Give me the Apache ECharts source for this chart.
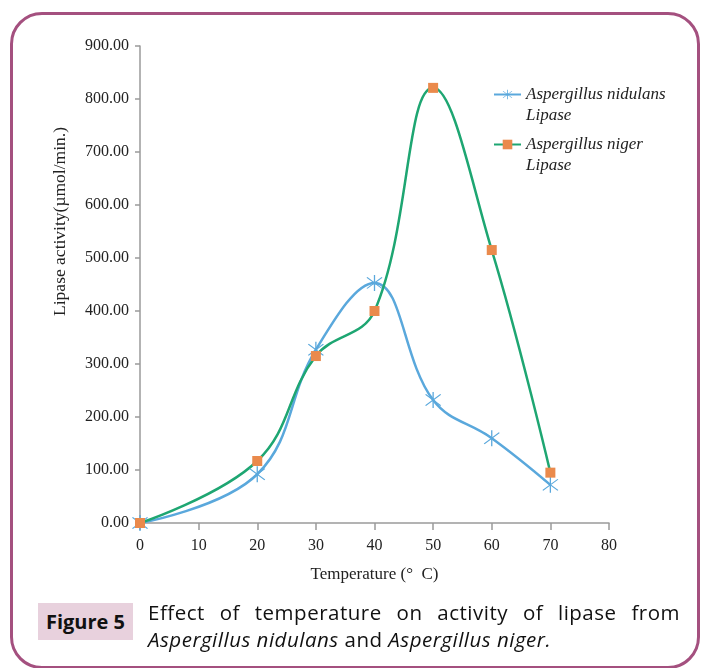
<!DOCTYPE html>
<html>
<head>
<meta charset="utf-8">
<script src="https://cdn.jsdelivr.net/npm/echarts@6/dist/echarts.min.js"></script>
<style>
    html, body { margin: 0; padding: 0; background: #fff; }
    #wrap { position: relative; width: 705px; height: 668px; overflow: hidden; }
    #frame {
        position: absolute; left: 10px; top: 12px; width: 690px; height: 657px;
        border: 3px solid #a4507f; border-radius: 32px; box-sizing: border-box;
    }
    #chart { position: absolute; left: 0; top: 0; width: 705px; height: 668px; }
    #figLabel {
        position: absolute; left: 38px; top: 603px; width: 95px; height: 37px;
        background: #e8d1dd; font-family: "Open Sans", "Noto Sans", sans-serif;
        font-weight: bold; font-size: 20px; line-height: 37px; text-align: center; color: #111;
    }
    #caption {
        position: absolute; left: 148px; top: 599px; width: 532px;
        font-family: "Open Sans", "Noto Sans", sans-serif; font-size: 20.5px;
        letter-spacing: 0.5px; line-height: 27px; color: #111;
    }
    #caption .l1 { text-align: justify; text-align-last: justify; }
</style>
</head>
<body>
<div id="wrap">
    <div id="frame"></div>
    <div id="chart"></div>
    <div id="figLabel">Figure 5</div>
    <div id="caption">
        <div class="l1">Effect of temperature on activity of lipase from</div>
        <div><i>Aspergillus nidulans</i> and <i>Aspergillus niger.</i></div>
    </div>
</div>
<script>
// 数据
const temperatures = [0, 20, 30, 40, 50, 60, 70];
const nidulansValues = [0, 92, 327, 453, 232, 160, 72];
const nigerValues = [0, 117, 315, 400, 821, 515, 95];
const seriesNames = ['Aspergillus nidulans', 'Aspergillus niger'];

// 星号标记
const asterisk = 'path://M9.4 0L10.6 0L10.6 20L9.4 20Z' +
    'M3.42 2.58L17.42 16.58L16.58 17.42L2.58 3.42Z' +
    'M16.58 2.58L17.42 3.42L3.42 17.42L2.58 16.58Z';

function pairs(xs, ys) {
    return xs.map(function(x, i) { return [x, ys[i]]; });
}

document.addEventListener('DOMContentLoaded', function() {
    const chart = echarts.init(document.getElementById('chart'));
    const serif = '"Liberation Serif", "DejaVu Serif", serif';
    chart.setOption({
        animation: false,
        grid: {
            left: 140,
            right: 96,
            top: 46,
            bottom: 145
        },
        legend: {
            orient: 'vertical',
            left: 493,
            top: 63,
            padding: 0,
            itemWidth: 27,
            itemHeight: 12,
            itemGap: -13,
            formatter: function(name) {
                return '\n' + name + '\nLipase';
            },
            textStyle: {
                fontFamily: serif,
                fontStyle: 'italic',
                fontSize: 17,
                lineHeight: 21,
                color: '#222'
            }
        },
        xAxis: {
            type: 'value',
            min: 0,
            max: 80,
            interval: 10,
            name: 'Temperature (°  C)',
            nameLocation: 'middle',
            nameGap: 43,
            nameTextStyle: {
                fontFamily: serif,
                fontSize: 17,
                color: '#222'
            },
            splitLine: { show: false },
            axisLine: { lineStyle: { color: '#9a9a9a', width: 1.5 } },
            axisTick: { length: 7, lineStyle: { color: '#9a9a9a', width: 1.5 } },
            axisLabel: {
                fontFamily: serif,
                fontSize: 16,
                color: '#222',
                margin: 15
            }
        },
        yAxis: {
            type: 'value',
            min: 0,
            max: 900,
            interval: 100,
            splitLine: { show: false },
            axisLine: { show: true, lineStyle: { color: '#9a9a9a', width: 1.5 } },
            axisTick: { show: true, length: 5, lineStyle: { color: '#9a9a9a', width: 1.5 } },
            axisLabel: {
                fontFamily: serif,
                fontSize: 16,
                color: '#222',
                margin: 11,
                formatter: function(v) { return v.toFixed(2); }
            }
        },
        graphic: [{
            type: 'text',
            left: 51,
            top: 127,
            rotation: Math.PI / 2,
            style: {
                text: 'Lipase activity(µmol/min.)',
                font: '17.5px ' + serif,
                fill: '#222'
            }
        }],
        series: [{
            name: seriesNames[0],
            type: 'line',
            smooth: 0.4,
            data: pairs(temperatures, nidulansValues),
            symbol: asterisk,
            symbolSize: 16,
            lineStyle: { color: '#5aa8dc', width: 2.5 },
            itemStyle: { color: '#5aa8dc' }
        }, {
            name: seriesNames[1],
            type: 'line',
            smooth: 0.4,
            data: pairs(temperatures, nigerValues),
            symbol: 'rect',
            symbolSize: 10,
            lineStyle: { color: '#1ea672', width: 2.5 },
            itemStyle: { color: '#ea8a4c' }
        }]
    });
});
</script>
</body>
</html>
